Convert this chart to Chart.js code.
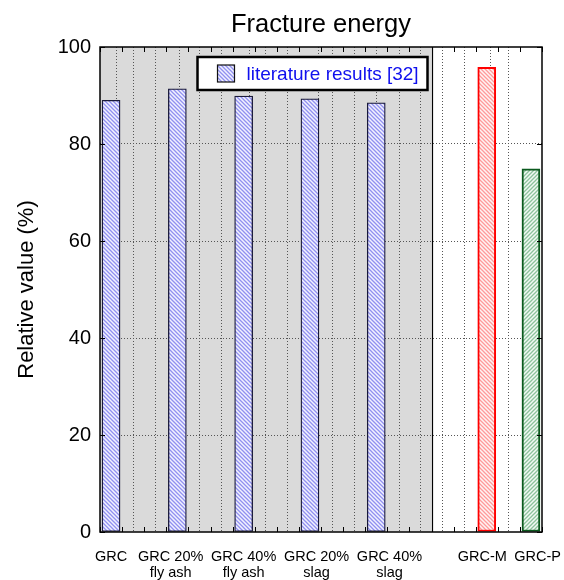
<!DOCTYPE html>
<html>
<head>
<meta charset="utf-8">
<script src="https://cdn.jsdelivr.net/npm/chart.js@4"></script>
<style>
  html, body { margin: 0; padding: 0; background: #fff; }
  #wrap { width: 564px; height: 580px; }
</style>
</head>
<body>
<div id="wrap"><canvas id="c" width="564" height="580"></canvas></div>
<script>
// ---- data ----
const chartTitle = 'Fracture energy';
const yTitle = 'Relative value (%)';
const categories = [['GRC'], ['GRC 20%', 'fly ash'], ['GRC 40%', 'fly ash'], ['GRC 20%', 'slag'], ['GRC 40%', 'slag'], ['GRC-M'], ['GRC-P']];
const slots = [0.5, 3.5, 6.5, 9.5, 12.5, 17.5, 19.5];        // x position of each bar
const labelSlots = [0.5, 3.2, 6.5, 9.8, 13.1, 17.3, 19.8];   // x position of each category label
const seriesNames = ['literature results [32]', 'GRC-M', 'GRC-P'];
const literature = [89.0, 91.4, 89.9, 89.3, 88.5];
const grcM = [95.8];
const grcP = [74.9];
const yTicks = [0, 20, 40, 60, 80, 100];
const xRange = [0, 20];
const literatureSpan = [0, 15];                                // shaded band behind the literature bars

const FONT = '"Liberation Sans", Arial, Helvetica, sans-serif';

// diagonal hatch fill
function hatch(line, back, dir) {
  const p = 4;
  const c = document.createElement('canvas');
  c.width = c.height = p;
  const g = c.getContext('2d');
  g.fillStyle = back;
  g.fillRect(0, 0, p, p);
  g.strokeStyle = line;
  g.lineWidth = 1.3;
  g.beginPath();
  if (dir === '\\') {
    g.moveTo(-1, -1); g.lineTo(p + 1, p + 1);
    g.moveTo(-1, p - 1); g.lineTo(1, p + 1);
    g.moveTo(p - 1, -1); g.lineTo(p + 1, 1);
  } else {
    g.moveTo(-1, p + 1); g.lineTo(p + 1, -1);
    g.moveTo(-1, 1); g.lineTo(1, -1);
    g.moveTo(p - 1, p + 1); g.lineTo(p + 1, p - 1);
  }
  g.stroke();
  return g.createPattern(c, 'repeat');
}

const blueHatch = hatch('#9090f0', '#f2f2ff', '\\');
const redHatch = hatch('#ff9a9a', '#fff4f4', '\\');
const greenHatch = hatch('#8cc29c', '#f2faf4', '/');

const toPoints = (vals, from) => vals.map((v, i) => ({ x: slots[from + i], y: v }));

const GRID = '#555';
const NONE = 'rgba(0,0,0,0)';

// shaded band, plot frame and inward ticks
const framePlugin = {
  id: 'frame',
  beforeDraw(chart) {
    const { ctx, chartArea: a, scales: { x } } = chart;
    ctx.save();
    ctx.fillStyle = '#dadada';
    const x0 = x.getPixelForValue(literatureSpan[0]);
    const x1 = x.getPixelForValue(literatureSpan[1]);
    ctx.fillRect(x0, a.top, x1 - x0, a.bottom - a.top);
    ctx.restore();
  },
  afterDatasetsDraw(chart) {
    const { ctx, chartArea: a, scales: { x, y } } = chart;
    ctx.save();
    ctx.strokeStyle = '#000';
    ctx.lineWidth = 1.2;
    const x1 = Math.round(x.getPixelForValue(literatureSpan[1])) + 0.5;
    ctx.beginPath();
    ctx.moveTo(x1, a.top); ctx.lineTo(x1, a.bottom);
    ctx.stroke();
    ctx.lineWidth = 1.5;
    ctx.strokeRect(a.left, a.top, a.right - a.left, a.bottom - a.top);
    // inward tick marks
    ctx.lineWidth = 1;
    ctx.beginPath();
    const tl = 5;
    yTicks.forEach(v => {
      const py = Math.round(y.getPixelForValue(v)) + 0.5;
      ctx.moveTo(a.left, py); ctx.lineTo(a.left + tl, py);
      ctx.moveTo(a.right, py); ctx.lineTo(a.right - tl, py);
    });
    for (let v = xRange[0]; v <= xRange[1]; v++) {
      const px = Math.round(x.getPixelForValue(v)) + 0.5;
      ctx.moveTo(px, a.top); ctx.lineTo(px, a.top + tl);
      ctx.moveTo(px, a.bottom); ctx.lineTo(px, a.bottom - tl);
    }
    ctx.stroke();
    ctx.restore();
  },
  afterDraw(chart) {
    const { ctx, chartArea: a, scales: { x } } = chart;
    ctx.save();
    // title over the plot area
    ctx.fillStyle = '#000';
    ctx.font = '25.5px ' + FONT;
    ctx.textAlign = 'center';
    ctx.textBaseline = 'alphabetic';
    ctx.fillText(chartTitle, (a.left + a.right) / 2, 32);

    // legend box
    const ds = chart.data.datasets[0];
    const right = x.getPixelForValue(literatureSpan[1]) - 4;
    const bx = right - 230, by = a.top + 10, bw = 230, bh = 33;
    ctx.fillStyle = '#fff';
    ctx.fillRect(bx, by, bw, bh);
    ctx.strokeStyle = '#000';
    ctx.lineWidth = 2.5;
    ctx.strokeRect(bx, by, bw, bh);
    ctx.fillStyle = ds.backgroundColor;
    ctx.fillRect(bx + 20, by + 8, 17, 17);
    ctx.lineWidth = 1.2;
    ctx.strokeStyle = '#111';
    ctx.strokeRect(bx + 20, by + 8, 17, 17);
    ctx.fillStyle = '#1010ee';
    ctx.font = '19px ' + FONT;
    ctx.textAlign = 'left';
    ctx.textBaseline = 'middle';
    ctx.fillText(ds.label, bx + 49, by + bh / 2 + 1);
    ctx.restore();
  }
};

new Chart(document.getElementById('c'), {
  type: 'bar',
  data: {
    datasets: [
      { label: seriesNames[0], data: toPoints(literature, 0), backgroundColor: blueHatch, borderColor: '#1a1a3a', borderWidth: 1.3 },
      { label: seriesNames[1], data: toPoints(grcM, 5), backgroundColor: redHatch, borderColor: '#ff0000', borderWidth: 2 },
      { label: seriesNames[2], data: toPoints(grcP, 6), backgroundColor: greenHatch, borderColor: '#0b5a1e', borderWidth: 2 }
    ]
  },
  options: {
    responsive: false,
    animation: false,
    layout: { padding: { left: 0, right: 22, top: 47, bottom: 0 } },
    datasets: { bar: { grouped: false, barThickness: 18, borderSkipped: false } },
    plugins: { legend: { display: false }, title: { display: false }, tooltip: { enabled: false } },
    scales: {
      x: {
        type: 'linear',
        min: xRange[0],
        max: xRange[1],
        offset: false,
        // integer ticks carry the grid, label ticks carry the category names
        afterBuildTicks: s => {
          const vals = [];
          for (let v = xRange[0]; v <= xRange[1]; v++) vals.push(v);
          labelSlots.forEach(v => { if (!vals.includes(v)) vals.push(v); });
          s.ticks = vals.sort((p, q) => p - q).map(v => ({ value: v }));
        },
        afterFit: s => { s.height = 48; s.paddingLeft = 0; s.paddingRight = 0; },
        ticks: {
          autoSkip: false, maxRotation: 0, minRotation: 0, padding: 17,
          color: '#000', font: { family: FONT, size: 14.5, lineHeight: 1.12 },
          callback: v => { const i = labelSlots.indexOf(v); return i >= 0 ? categories[i] : ''; }
        },
        grid: {
          drawTicks: false, lineWidth: 1,
          color: ctx => (ctx.tick && Number.isInteger(ctx.tick.value) && ctx.tick.value > xRange[0] && ctx.tick.value < xRange[1]) ? GRID : NONE
        },
        border: { display: false, color: NONE, dash: [1, 2] }
      },
      y: {
        min: yTicks[0],
        max: yTicks[yTicks.length - 1],
        afterBuildTicks: s => { s.ticks = yTicks.map(v => ({ value: v })); },
        afterFit: s => { s.width = 100; s.paddingTop = 0; s.paddingBottom = 0; },
        ticks: { color: '#000', padding: 9, font: { family: FONT, size: 20 } },
        grid: {
          drawTicks: false, lineWidth: 1,
          color: ctx => (ctx.tick && ctx.tick.value > yTicks[0] && ctx.tick.value < yTicks[yTicks.length - 1]) ? GRID : NONE
        },
        border: { display: false, color: NONE, dash: [1, 2] },
        title: { display: true, text: yTitle, color: '#000', font: { family: FONT, size: 22 }, padding: { top: 14, bottom: 0 } }
      }
    }
  },
  plugins: [framePlugin]
});
</script>
</body>
</html>
